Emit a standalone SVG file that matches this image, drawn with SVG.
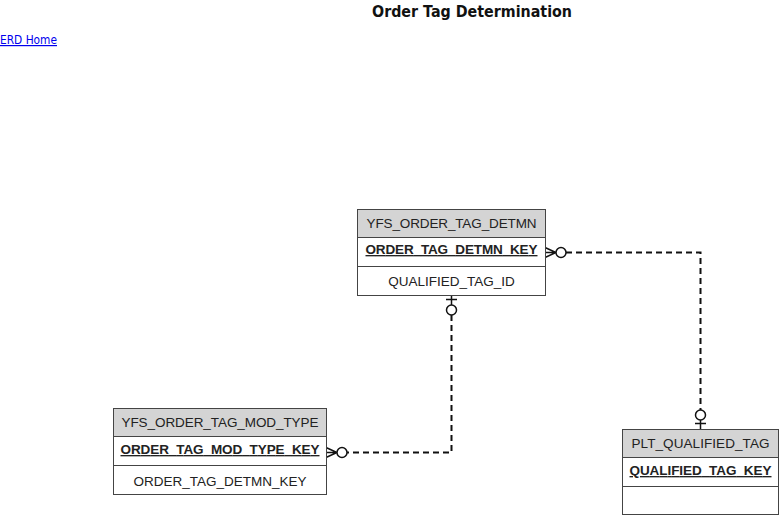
<svg xmlns="http://www.w3.org/2000/svg" width="780" height="516" viewBox="0 0 780 516">
<style>
.t{font-family:"Liberation Sans",Arial,sans-serif;font-size:13.5px;fill:#222;text-anchor:middle}
.k{font-weight:bold;text-decoration:underline}
.hd{fill:#d4d4d4;stroke:#444;stroke-width:1}
.bx{fill:#fff;stroke:#444;stroke-width:1}
.c{fill:none;stroke:#111;stroke-width:2;stroke-dasharray:6,4}
.s{fill:none;stroke:#111;stroke-width:1.5}
.o{fill:#fff;stroke:#111;stroke-width:1.5}
</style>
<rect width="780" height="516" fill="#fff"/>
<text x="472" y="17" font-family="'DejaVu Sans',Verdana,sans-serif" font-size="16" font-weight="bold" text-anchor="middle" textLength="200" lengthAdjust="spacingAndGlyphs" fill="#111">Order Tag Determination</text>
<text x="0" y="44" font-family="'DejaVu Sans',Verdana,sans-serif" font-size="12" fill="#0000ee" text-decoration="underline" textLength="57" lengthAdjust="spacingAndGlyphs">ERD Home</text>
<g id="connectors">
<path class="c" d="M566 252.5H700.5V410"/>
<path class="c" d="M451.5 315V452.5H347"/>
<g id="rel1">
<path class="s" d="M545 247.5L556 252.5L545 257.5M545 252.5H556"/>
<circle class="o" cx="561" cy="252.5" r="5"/>
<path class="s" d="M695 423.5H706M700.5 420V429"/>
<circle class="o" cx="700.5" cy="415" r="5"/>
</g>
<g id="rel2">
<path class="s" d="M446 299.5H457M451.5 295V305"/>
<circle class="o" cx="451.5" cy="310" r="5"/>
<path class="s" d="M326 447.5L337 452.5L326 457.5M326 452.5H337"/>
<circle class="o" cx="342" cy="452.5" r="5"/>
</g>
</g>
<g id="YFS_ORDER_TAG_DETMN">
<rect class="hd" x="357.5" y="209.5" width="188" height="28"/>
<rect class="bx" x="357.5" y="237.5" width="188" height="29"/>
<rect class="bx" x="357.5" y="266.5" width="188" height="29"/>
<text class="t" x="451.5" y="228" textLength="170">YFS_ORDER_TAG_DETMN</text>
<text class="t k" x="451.5" y="254" textLength="172">ORDER_TAG_DETMN_KEY</text>
<text class="t" x="451.5" y="286">QUALIFIED_TAG_ID</text>
</g>
<g id="YFS_ORDER_TAG_MOD_TYPE">
<rect class="hd" x="113.5" y="408.5" width="213" height="28"/>
<rect class="bx" x="113.5" y="436.5" width="213" height="29"/>
<rect class="bx" x="113.5" y="465.5" width="213" height="29"/>
<text class="t" x="220" y="427" textLength="197">YFS_ORDER_TAG_MOD_TYPE</text>
<text class="t k" x="220" y="454" textLength="199">ORDER_TAG_MOD_TYPE_KEY</text>
<text class="t" x="220" y="486">ORDER_TAG_DETMN_KEY</text>
</g>
<g id="PLT_QUALIFIED_TAG">
<rect class="hd" x="622.5" y="429.5" width="156" height="28"/>
<rect class="bx" x="622.5" y="457.5" width="156" height="29"/>
<rect class="bx" x="622.5" y="486.5" width="156" height="28"/>
<text class="t" x="700.5" y="448" textLength="138">PLT_QUALIFIED_TAG</text>
<text class="t k" x="700.5" y="475" textLength="142">QUALIFIED_TAG_KEY</text>
</g>
</svg>
